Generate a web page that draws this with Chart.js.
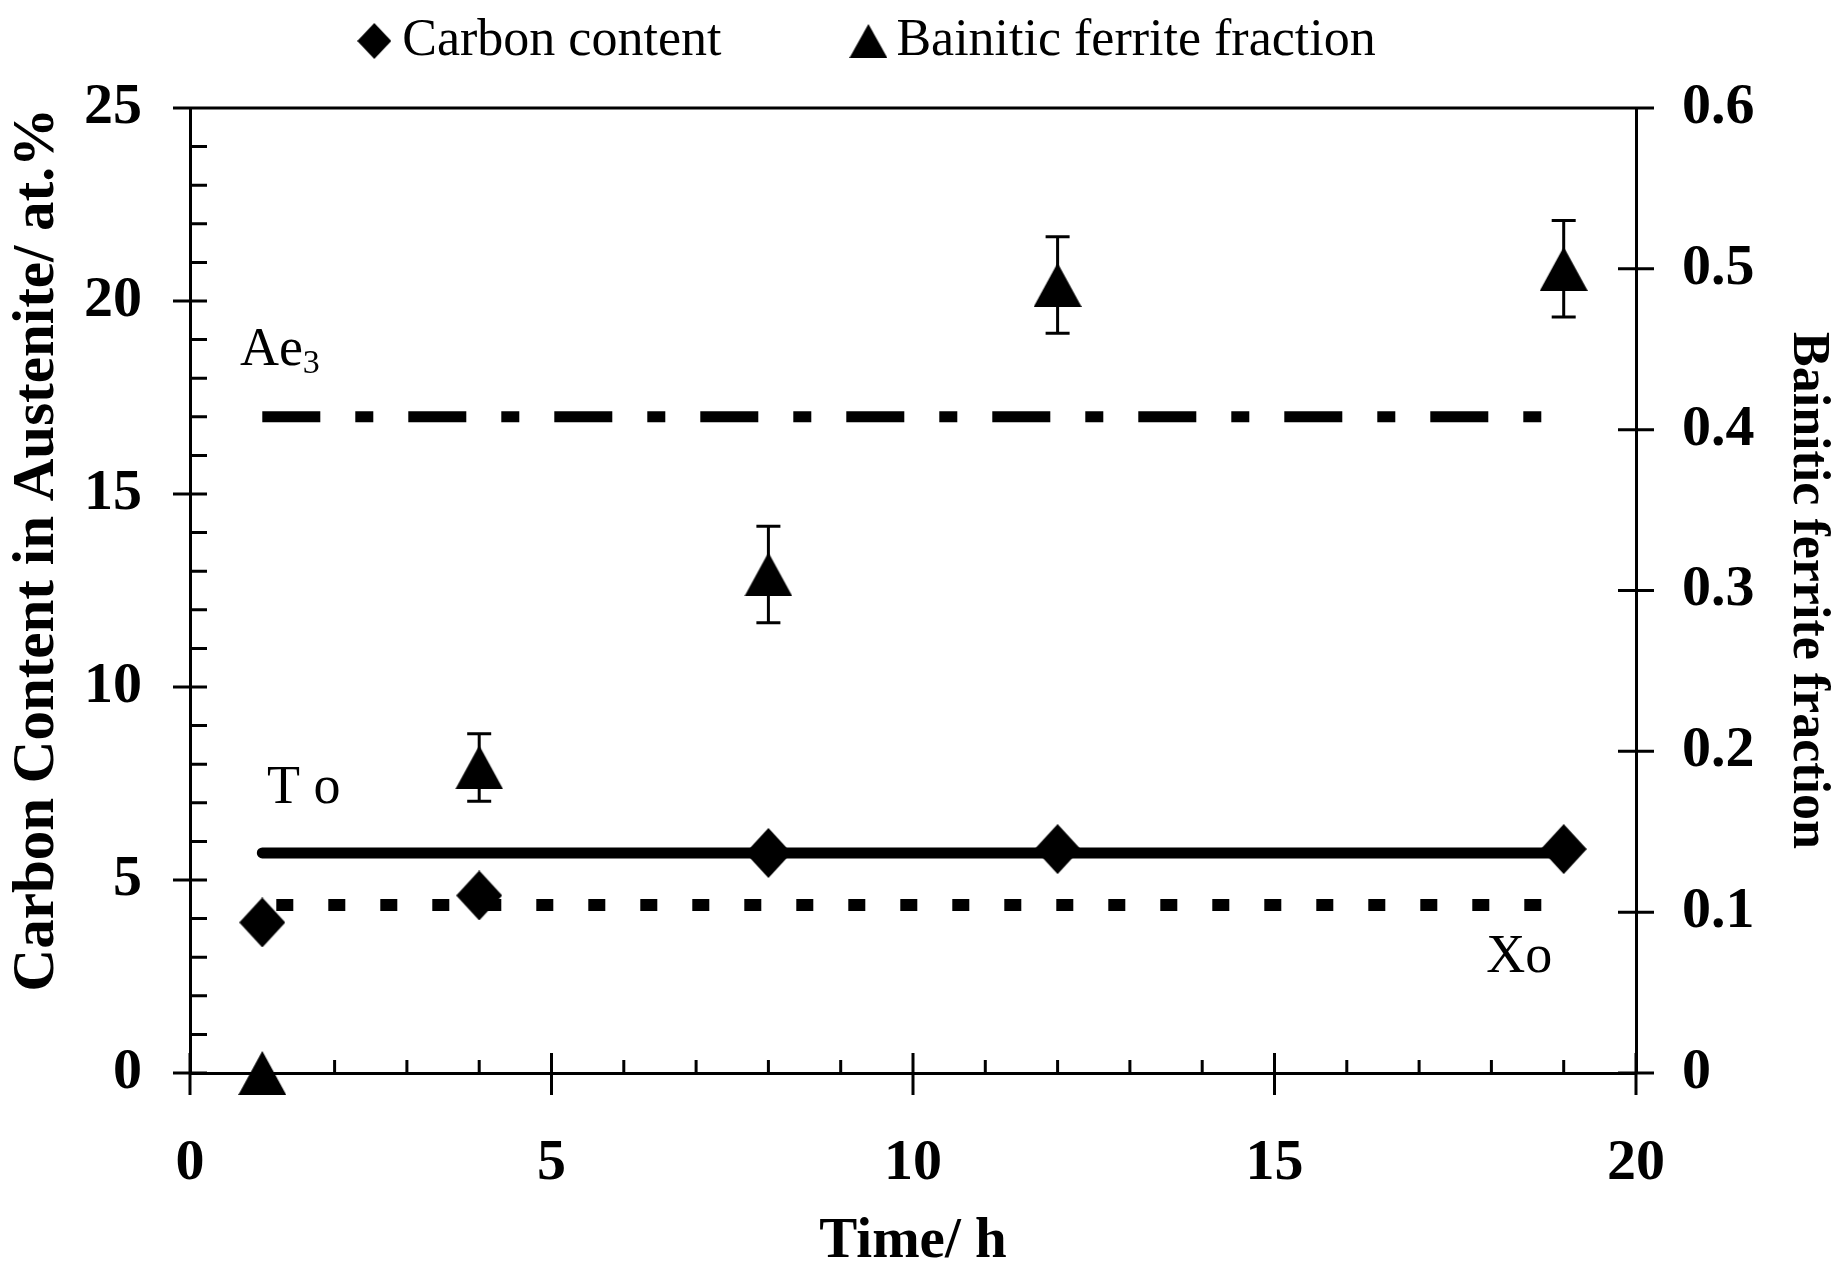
<!DOCTYPE html>
<html>
<head>
<meta charset="utf-8">
<script src="https://cdn.jsdelivr.net/npm/chart.js@4.4.1/dist/chart.umd.min.js"></script>
<style>
  html, body { margin: 0; padding: 0; background: #ffffff; }
  #wrap { width: 1839px; height: 1276px; position: relative; }
</style>
</head>
<body>
<div id="wrap"><canvas id="c"></canvas></div>
<script>
// ---------------- data ----------------
const timeH = [1, 4, 8, 12, 19];
const carbonContent = [3.9, 4.6, 5.7, 5.8, 5.8];
const bainiticFraction = [0, 0.19, 0.31, 0.49, 0.50];
const bainiticError = [0, 0.021, 0.03, 0.03, 0.03];

const refLineTime = [1, 19];
const ae3Level = 17;
const t0Level = 5.7;
const x0Level = 4.35;

const xTickValues = [0, 5, 10, 15, 20];
const xTickLabels = ['0', '5', '10', '15', '20'];
const yTickValues = [0, 5, 10, 15, 20, 25];
const yTickLabels = ['0', '5', '10', '15', '20', '25'];
const y2TickValues = [0, 0.1, 0.2, 0.3, 0.4, 0.5, 0.6];
const y2TickLabels = ['0', '0.1', '0.2', '0.3', '0.4', '0.5', '0.6'];

const seriesNames = ['Carbon content', 'Bainitic ferrite fraction'];
const axisTitles = ['Time/ h', 'Carbon Content in Austenite/ at.%', 'Bainitic ferrite fraction'];

// ---------------- styling helpers ----------------
const SERIF = "'Liberation Serif', 'Times New Roman', serif";
const NB = '\u00a0';

function makeMarker(w, h, kind) {
  const c = document.createElement('canvas');
  c.width = w; c.height = h;
  const g = c.getContext('2d');
  g.fillStyle = '#000';
  g.beginPath();
  if (kind === 'diamond') {
    g.moveTo(w / 2, 0); g.lineTo(w, h / 2); g.lineTo(w / 2, h); g.lineTo(0, h / 2);
  } else {
    g.moveTo(w / 2, 0); g.lineTo(w, h); g.lineTo(0, h);
  }
  g.closePath();
  g.fill();
  return c;
}
const diamondImg = makeMarker(46, 50, 'diamond');
const triangleImg = makeMarker(48, 44, 'triangle');
const legendDiamond = makeMarker(34, 36, 'diamond');
const legendTriangle = makeMarker(38, 34, 'triangle');

const pts = (xs, ys) => xs.map((x, i) => ({ x: x, y: ys[i] }));
const flat = (xs, level) => xs.map(x => ({ x: x, y: level }));

// ---------------- plugins ----------------
const errorBars = {
  id: 'errorBars',
  beforeDatasetsDraw(chart) {
    const { ctx, scales } = chart;
    const x = scales.x, y2 = scales.y2;
    ctx.save();
    ctx.strokeStyle = '#000';
    ctx.lineWidth = 3;
    ctx.beginPath();
    timeH.forEach((t, i) => {
      const e = bainiticError[i];
      if (!e) return;
      const px = x.getPixelForValue(t);
      const top = y2.getPixelForValue(bainiticFraction[i] + e);
      const bot = y2.getPixelForValue(bainiticFraction[i] - e);
      ctx.moveTo(px, top); ctx.lineTo(px, bot);
      ctx.moveTo(px - 12, top); ctx.lineTo(px + 12, top);
      ctx.moveTo(px - 12, bot); ctx.lineTo(px + 12, bot);
    });
    ctx.stroke();
    ctx.restore();
  }
};

const frameTicks = {
  id: 'frameTicks',
  afterDraw(chart) {
    const { ctx, chartArea: a, scales } = chart;
    const x = scales.x, y = scales.y, y2 = scales.y2;
    ctx.save();
    ctx.strokeStyle = '#000';
    ctx.lineWidth = 3;
    ctx.beginPath();
    ctx.moveTo(a.left, a.top); ctx.lineTo(a.right, a.top);
    y.ticks.forEach(t => { const p = y.getPixelForValue(t.value); ctx.moveTo(a.left - 17, p); ctx.lineTo(a.left + 17, p); });
    for (let v = y.min; v <= y.max; v++) {
      if (v % 5 === 0) continue;
      const p = y.getPixelForValue(v); ctx.moveTo(a.left, p); ctx.lineTo(a.left + 17, p);
    }
    x.ticks.forEach(t => { const p = x.getPixelForValue(t.value); ctx.moveTo(p, a.bottom - 20); ctx.lineTo(p, a.bottom + 22); });
    for (let v = x.min; v <= x.max; v++) {
      if (v % 5 === 0) continue;
      const p = x.getPixelForValue(v); ctx.moveTo(p, a.bottom - 13); ctx.lineTo(p, a.bottom);
    }
    y2.ticks.forEach(t => { const p = y2.getPixelForValue(t.value); ctx.moveTo(a.right - 18, p); ctx.lineTo(a.right + 18, p); });
    ctx.stroke();
    ctx.restore();
  }
};

// text labels of the three reference lines (anchor in data units)
const lineNotes = [
  { text: 'Ae', sub: '3', x: 0.69, y: 18.34 },
  { text: 'T o', sub: '', x: 1.065, y: 6.99 },
  { text: 'Xo', sub: '', x: 17.93, y: 2.62 }
];
const notes = {
  id: 'notes',
  afterDraw(chart) {
    const { ctx, scales } = chart;
    ctx.save();
    ctx.fillStyle = '#000';
    ctx.textBaseline = 'alphabetic';
    ctx.textAlign = 'left';
    lineNotes.forEach(n => {
      const px = scales.x.getPixelForValue(n.x);
      const py = scales.y.getPixelForValue(n.y);
      ctx.font = '54px ' + SERIF;
      ctx.fillText(n.text, px, py);
      if (n.sub) {
        const w = ctx.measureText(n.text).width;
        ctx.font = '34px ' + SERIF;
        ctx.fillText(n.sub, px + w, py + 8);
      }
    });
    ctx.restore();
  }
};

// ---------------- chart ----------------
Chart.defaults.font.family = SERIF;
Chart.defaults.color = '#000';

const tickFont = { family: SERIF, size: 58, weight: 'bold' };

new Chart(document.getElementById('c'), {
  type: 'scatter',
  data: {
    datasets: [
      {
        label: seriesNames[0],
        data: pts(timeH, carbonContent),
        yAxisID: 'y',
        pointStyle: diamondImg,
        pointRadius: 10,
        backgroundColor: '#000',
        borderColor: '#000',
        showLine: false,
        clip: false
      },
      {
        label: seriesNames[1],
        data: pts(timeH, bainiticFraction),
        yAxisID: 'y2',
        pointStyle: triangleImg,
        pointRadius: 10,
        backgroundColor: '#000',
        borderColor: '#000',
        showLine: false,
        clip: false
      },
      {
        label: 'To',
        data: flat(refLineTime, t0Level),
        yAxisID: 'y',
        showLine: true,
        borderColor: '#000',
        borderWidth: 11,
        borderCapStyle: 'round',
        pointRadius: 0
      },
      {
        label: 'Ae3',
        data: flat(refLineTime, ae3Level),
        yAxisID: 'y',
        showLine: true,
        borderColor: '#000',
        borderWidth: 11,
        borderDash: [58, 35, 18, 35],
        borderCapStyle: 'butt',
        pointRadius: 0
      },
      {
        label: 'Xo',
        data: flat(refLineTime, x0Level),
        yAxisID: 'y',
        showLine: true,
        borderColor: '#000',
        borderWidth: 12,
        borderDash: [17, 35],
        borderDashOffset: 38,
        borderCapStyle: 'butt',
        pointRadius: 0
      }
    ]
  },
  options: {
    responsive: true,
    maintainAspectRatio: false,
    animation: false,
    events: [],
    layout: { padding: 0 },
    plugins: {
      tooltip: { enabled: false },
      legend: {
        position: 'top',
        align: 'center',
        labels: {
          usePointStyle: true,
          pointStyleWidth: 4,
          padding: 15,
          color: '#000',
          font: { family: SERIF, size: 52 },
          generateLabels: () => [
            { text: seriesNames[0] + NB.repeat(10), pointStyle: legendDiamond, fillStyle: '#000', strokeStyle: '#000', lineWidth: 0, hidden: false, datasetIndex: 0 },
            { text: seriesNames[1] + NB.repeat(7), pointStyle: legendTriangle, fillStyle: '#000', strokeStyle: '#000', lineWidth: 0, hidden: false, datasetIndex: 1 }
          ]
        }
      }
    },
    scales: {
      x: {
        type: 'linear',
        position: 'bottom',
        min: 0,
        max: 20,
        grid: { display: false, drawTicks: false },
        border: { display: true, color: '#000', width: 3 },
        afterBuildTicks: s => { s.ticks = xTickValues.map(v => ({ value: v })); },
        ticks: {
          font: tickFont, color: '#000', padding: 56, maxRotation: 0, autoSkip: false,
          callback: (v, i) => xTickLabels[i]
        },
        title: {
          display: true, text: axisTitles[0], color: '#000',
          font: { family: SERIF, size: 57, weight: 'bold' },
          padding: { top: 0, bottom: 0 }
        },
        afterFit: s => { s.height = 203; }
      },
      // empty spacer between the legend and the plot frame
      xTop: {
        type: 'linear',
        position: 'top',
        display: true,
        grid: { display: false, drawTicks: false },
        border: { display: false },
        ticks: { display: false },
        title: { display: false },
        afterFit: s => { s.height = 31; }
      },
      y: {
        type: 'linear',
        position: 'left',
        min: 0,
        max: 25,
        grid: { display: false, drawTicks: false },
        border: { display: true, color: '#000', width: 3 },
        afterBuildTicks: s => { s.ticks = yTickValues.map(v => ({ value: v })); },
        ticks: {
          font: tickFont, color: '#000', padding: 48, autoSkip: false,
          callback: (v, i) => yTickLabels[i]
        },
        title: {
          display: true, text: axisTitles[1], color: '#000', align: 'end',
          font: { family: SERIF, size: 59, weight: 'bold' },
          padding: { top: 2, bottom: 0 }
        },
        afterFit: s => { s.width = 190; }
      },
      y2: {
        type: 'linear',
        position: 'right',
        min: 0,
        max: 0.6,
        grid: { display: false, drawTicks: false },
        border: { display: true, color: '#000', width: 3 },
        afterBuildTicks: s => { s.ticks = y2TickValues.map(v => ({ value: v })); },
        ticks: {
          font: tickFont, color: '#000', padding: 46, autoSkip: false,
          callback: (v, i) => y2TickLabels[i]
        },
        title: {
          display: true, text: axisTitles[2], color: '#000',
          font: { family: SERIF, size: 52, weight: 'bold' },
          padding: { top: 0, bottom: 0 }
        },
        afterFit: s => { s.width = 203; }
      }
    }
  },
  plugins: [errorBars, frameTicks, notes]
});
</script>
</body>
</html>
